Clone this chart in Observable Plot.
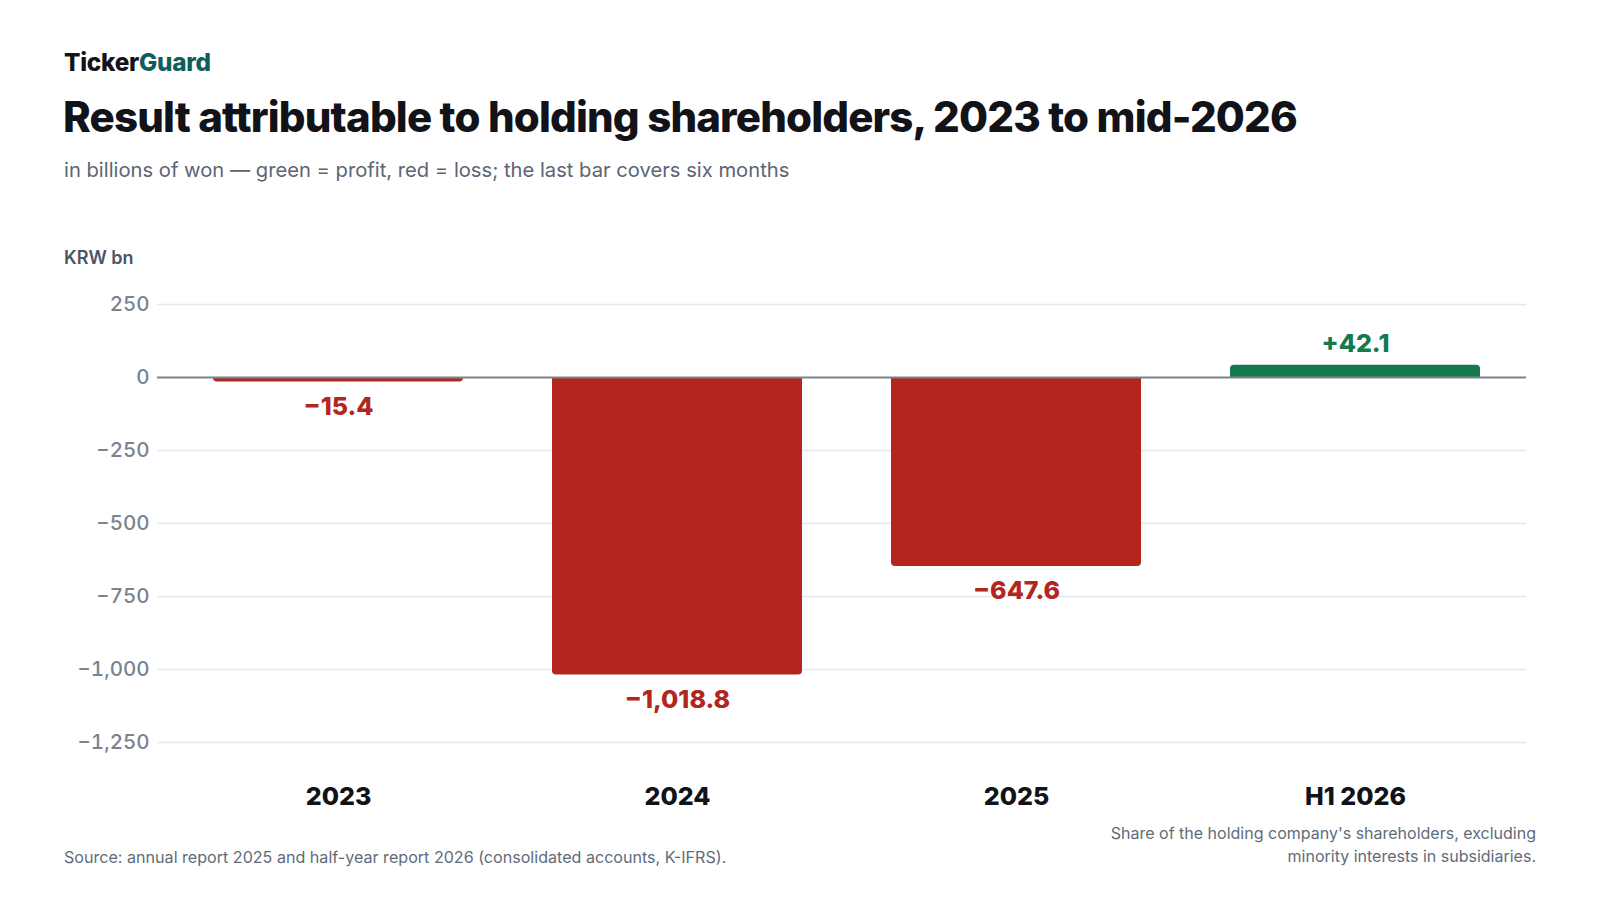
<!DOCTYPE html>
<html>
<head>
<meta charset="utf-8">
<script src="https://cdn.jsdelivr.net/npm/d3@7"></script>
<script src="https://cdn.jsdelivr.net/npm/@observablehq/plot@0.6"></script>
<style>
  html, body { margin: 0; padding: 0; background: #ffffff; }
  body { font-family: Inter, "Noto Sans", sans-serif; }
  #page { position: relative; width: 1600px; height: 900px; overflow: hidden; background: #fff; }
  .abs { position: absolute; white-space: nowrap; }
  #logo { left: 64px; top: 50px; font-size: 24.3px; line-height: 24px; font-weight: 800; color: #111318; letter-spacing: -0.01em; }
  #logo span { color: #0f5e5c; }
  #title { left: 63px; top: 96px; font-size: 42px; line-height: 42px; font-weight: 800; color: #111318; letter-spacing: -0.02em; }
  #subtitle { left: 64px; top: 160px; font-size: 20.2px; line-height: 20px; font-weight: 400; color: #5b6573; }
  #unit { left: 64px; top: 249px; font-size: 18px; line-height: 18px; font-weight: 600; color: #4b5563; }
  #chart { position: absolute; left: 64px; top: 280px; }
  #source { left: 64px; top: 849px; font-size: 16.1px; line-height: 16px; color: #5f6b7a; }
  #note { right: 64px; top: 822px; font-size: 16px; line-height: 23px; color: #5f6b7a; text-align: right; white-space: normal; width: 520px; }
  #chart svg [aria-label="y-axis tick label"] text { font-weight: 500; }
  #chart svg [aria-label="x-axis tick label"] text { font-weight: 800; }
</style>
</head>
<body>
<div id="page">
  <div id="logo" class="abs">Ticker<span>Guard</span></div>
  <div id="title" class="abs">Result attributable to holding shareholders, 2023 to mid-2026</div>
  <div id="subtitle" class="abs">in billions of won — green = profit, red = loss; the last bar covers six months</div>
  <div id="unit" class="abs">KRW bn</div>
  <div id="chart"></div>
  <div id="source" class="abs">Source: annual report 2025 and half-year report 2026 (consolidated accounts, K-IFRS).</div>
  <div id="note" class="abs">Share of the holding company's shareholders, excluding<br>minority interests in subsidiaries.</div>
</div>
<script>
// ---- data ----
const periods = ["2023", "2024", "2025", "H1 2026"];
const results = [-15.4, -1018.8, -647.6, 42.1];
const yTicks = [250, 0, -250, -500, -750, -1000, -1250];

const LOSS = "#b3261e";
const PROFIT = "#137a4b";

const rows = periods.map((p, i) => ({period: p, value: results[i]}));
const losses = rows.filter(d => d.value < 0);
const profits = rows.filter(d => d.value >= 0);
const fmt = d3.format("+,.1f");
const fmtTick = d3.format(",");

const chart = Plot.plot({
  width: 1472,
  height: 540,
  marginTop: 24,
  marginBottom: 78,
  marginLeft: 93,
  marginRight: 10,
  style: {fontFamily: "Inter, sans-serif", fontSize: "20px", background: "transparent", overflow: "visible"},
  x: {domain: periods, paddingInner: 0.263, paddingOuter: 0.1455, align: 0.55, label: null},
  y: {domain: [-1250, 250], nice: false, label: null},
  marks: [
    Plot.ruleY(yTicks.filter(t => t !== 0), {stroke: "#e4e6e9", strokeWidth: 1.5}),
    Plot.axisY({ticks: yTicks, tickFormat: fmtTick, tickSize: 0, tickPadding: 8, fontSize: 20.5, color: "#7a8391", label: null}),
    Plot.axisX({tickSize: 0, tickPadding: 45, fontSize: 25, color: "#111318", label: null}),
    Plot.barY(losses, {x: "period", y: "value", fill: LOSS, ry2: 4}),
    Plot.barY(profits, {x: "period", y: "value", fill: PROFIT, ry1: 4}),
    Plot.ruleY([0], {stroke: "#7b838d", strokeWidth: 2}),
    Plot.text(losses, {x: "period", y: "value", text: d => fmt(d.value), lineAnchor: "top", dy: 15, fill: LOSS, fontSize: 25, fontWeight: 800}),
    Plot.text(profits, {x: "period", y: "value", text: d => fmt(d.value), lineAnchor: "bottom", dy: -13, fill: PROFIT, fontSize: 25, fontWeight: 800})
  ]
});
document.getElementById("chart").appendChild(chart);
</script>
</body>
</html>
